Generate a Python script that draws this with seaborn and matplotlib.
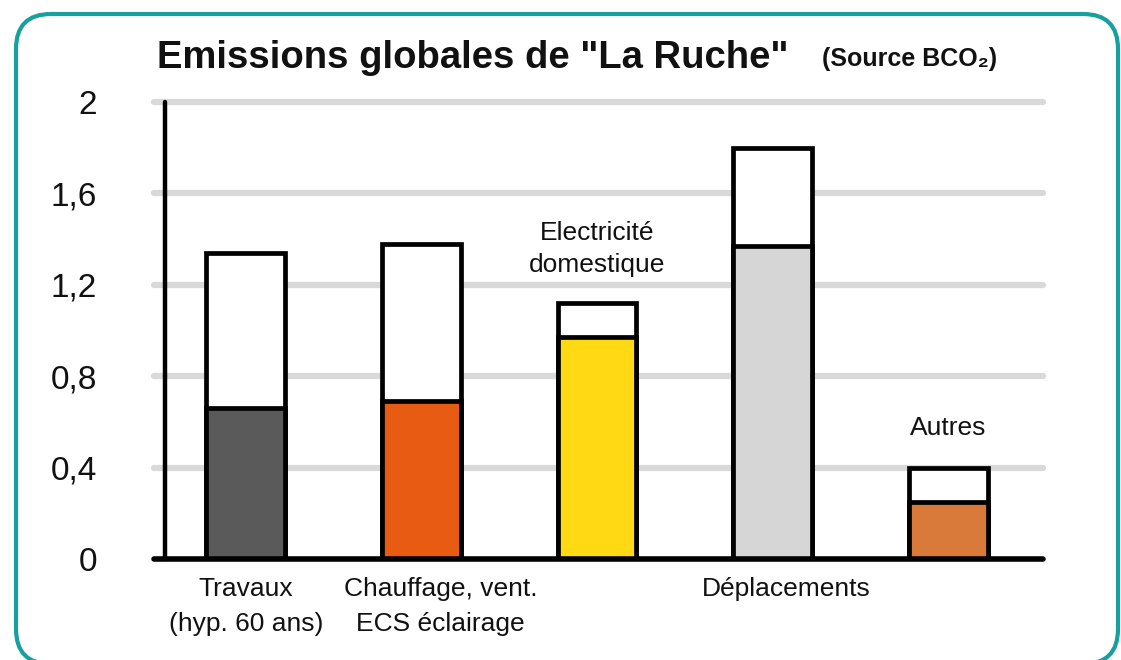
import pandas as pd
import matplotlib
matplotlib.use("Agg")
import matplotlib.pyplot as plt
from matplotlib.patches import FancyBboxPatch
import seaborn as sb

# Chart data (tonnes CO2)
categories = ["Travaux", "Chauffage", "Electricite", "Deplacements", "Autres"]
totals = [1.34, 1.38, 1.12, 1.80, 0.40]
lowerParts = [0.66, 0.69, 0.97, 1.37, 0.25]
barColors = ["#5A5A5A", "#E85B13", "#FFDA14", "#D6D6D6", "#D97A3A"]
yTicks = [0, 0.4, 0.8, 1.2, 1.6, 2.0]
yTickLabels = ["0", "0,4", "0,8", "1,2", "1,6", "2"]
bottomLabels = {0: ("Travaux\n(hyp. 60 ans)", 0.0),
                1: ("Chauffage, vent.\nECS éclairage", 0.11),
                3: ("Déplacements", 0.08)}
topLabels = {2: ("Electricité\ndomestique", 1.357),
             4: ("Autres", 0.573)}

sb.set_style("white")
plt.rcParams['font.family'] = ['Liberation Sans', 'DejaVu Sans']

df = pd.DataFrame({"cat": categories, "total": totals, "low": lowerParts})

fig = plt.figure(figsize=(11.21, 6.60), dpi=100)
ax = fig.add_axes([154 / 1121, 101 / 660, (1043 - 154) / 1121, 2.05 * 228.5 / 660])

# Rounded teal frame, bottom edge runs just off the canvas like the reference
frame = FancyBboxPatch((0.16, -0.04), 11.02, 6.50, boxstyle="round,pad=0,rounding_size=0.35",
                       transform=fig.dpi_scale_trans, fill=False, edgecolor="#17A09E",
                       linewidth=3, zorder=0)
fig.patches.append(frame)

# Grid lines
for t in yTicks[1:]:
    ax.axhline(t, color="#D9D9D9", linewidth=4.5, zorder=0, clip_on=False)

# Full bars (white upper part) then the coloured lower part
sb.barplot(data=df, x="cat", y="total", color="white", edgecolor="black",
           linewidth=3.4, width=0.45, saturation=1, ax=ax, zorder=2)
sb.barplot(data=df, x="cat", y="low", hue="cat", palette=barColors, edgecolor="black",
           linewidth=3.4, width=0.45, saturation=1, legend=False, ax=ax, zorder=3)

ax.set_xlim(-0.524, 4.541)
ax.set_ylim(0, 2.05)

# Axis lines
ax.axhline(0, color="black", linewidth=4, zorder=4, clip_on=False)
ax.plot([-0.462, -0.462], [0, 2.0], color="black", linewidth=3.2, zorder=4,
        solid_capstyle="round", clip_on=False)

for s in ax.spines.values():
    s.set_visible(False)

ax.set_yticks(yTicks)
ax.set_yticklabels(yTickLabels, fontsize=24, color="#111111")
ax.tick_params(axis="y", length=0, pad=41)
ax.set_xticks([])
ax.set_xlabel("")
ax.set_ylabel("")

for i, (txt, off) in bottomLabels.items():
    ax.text(i + off, -0.08, txt, ha="center", va="top", fontsize=19,
            linespacing=1.55, color="#111111", clip_on=False)

for i, (txt, yv) in topLabels.items():
    ax.text(i, yv, txt, ha="center", va="center", fontsize=19,
            linespacing=1.45, color="#111111")

# Title
fig.text(157 / 1121, 1 - 68 / 660, 'Emissions globales de "La Ruche"', fontsize=27.5,
         fontweight="bold", ha="left", va="baseline", color="#111111")
fig.text(822 / 1121, 1 - 66 / 660, "(Source BCO₂)", fontsize=18,
         fontweight="bold", ha="left", va="baseline", color="#111111")

fig.savefig("out.png", dpi=100)
